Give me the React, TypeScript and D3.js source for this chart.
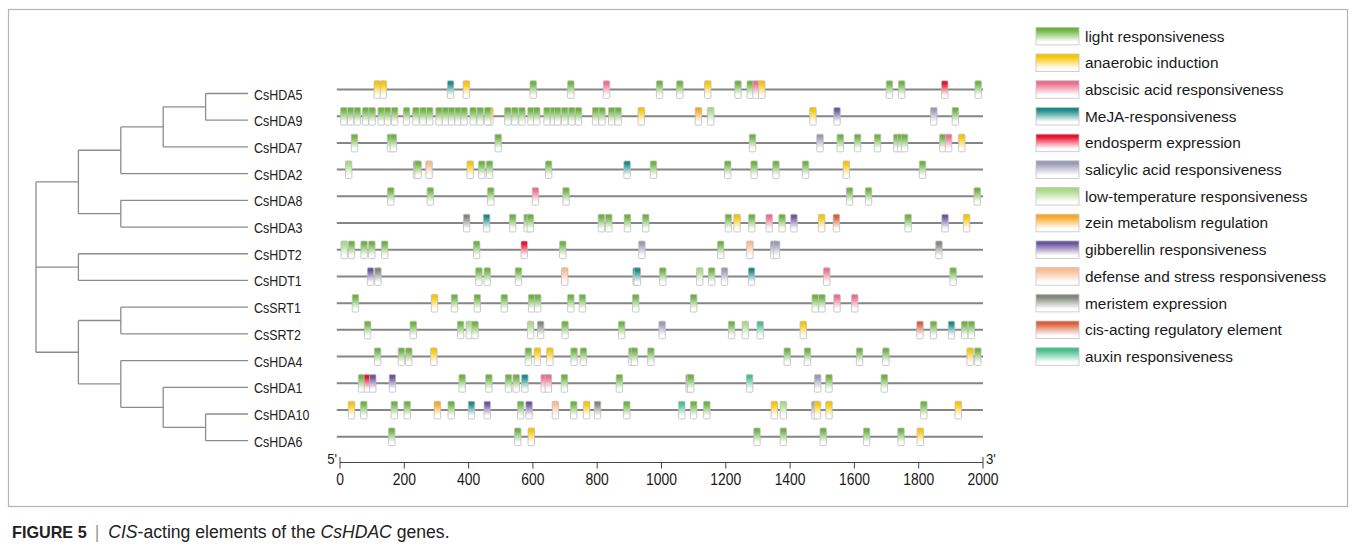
import React from 'react'
import * as d3 from 'd3'

// genes, top to bottom
const genes = [
  'CsHDA5', 'CsHDA9', 'CsHDA7', 'CsHDA2', 'CsHDA8', 'CsHDA3', 'CsHDT2',
  'CsHDT1', 'CsSRT1', 'CsSRT2', 'CsHDA4', 'CsHDA1', 'CsHDA10', 'CsHDA6',
]

const elementKeys = ['L', 'AN', 'ABA', 'MJ', 'EN', 'SA', 'LT', 'ZN', 'GA', 'DS', 'ME', 'CA', 'AX']
const elementNames = [
  'light responsiveness',
  'anaerobic induction',
  'abscisic acid responsiveness',
  'MeJA-responsiveness',
  'endosperm expression',
  'salicylic acid responsiveness',
  'low-temperature responsiveness',
  'zein metabolism regulation',
  'gibberellin responsiveness',
  'defense and stress responsiveness',
  'meristem expression',
  'cis-acting regulatory element',
  'auxin responsiveness',
]
const elementColors = [
  '#6cb33f', '#f7c600', '#ec6f8e', '#1a8a87', '#e8102d', '#9a9ab8', '#a9d987',
  '#f9a825', '#6a559e', '#f9bc92', '#80877a', '#d9603b', '#48bf8e',
]

// [position (bp, box centre), element key]
const sitesHDA5 = [[116, 'AN'], [135, 'AN'], [344, 'MJ'], [393, 'AN'], [601, 'L'], [718, 'L'], [829, 'ABA'], [994, 'L'], [1057, 'L'], [1144, 'AN'], [1238, 'L'], [1276, 'L'], [1294, 'ABA'], [1312, 'AN'], [1709, 'L'], [1747, 'L'], [1881, 'EN'], [1985, 'L']]
const sitesHDA9 = [[12, 'L'], [33, 'L'], [54, 'L'], [80, 'L'], [100, 'L'], [128, 'L'], [148, 'L'], [170, 'L'], [207, 'L'], [236, 'L'], [258, 'L'], [279, 'L'], [308, 'L'], [328, 'L'], [347, 'L'], [367, 'L'], [386, 'L'], [414, 'L'], [436, 'L'], [466, 'AN'], [459, 'L'], [522, 'L'], [544, 'L'], [566, 'L'], [594, 'L'], [612, 'L'], [644, 'L'], [664, 'L'], [677, 'L'], [699, 'L'], [721, 'L'], [742, 'L'], [795, 'L'], [815, 'L'], [845, 'L'], [865, 'L'], [937, 'AN'], [1115, 'ZN'], [1153, 'LT'], [1471, 'AN'], [1546, 'GA'], [1847, 'SA'], [1914, 'L']]
const sitesHDA7 = [[45, 'L'], [157, 'L'], [166, 'L'], [492, 'L'], [1283, 'L'], [1493, 'SA'], [1556, 'L'], [1610, 'L'], [1672, 'L'], [1732, 'L'], [1744, 'L'], [1756, 'L'], [1875, 'L'], [1893, 'ABA'], [1934, 'AN']]
const sitesHDA2 = [[27, 'LT'], [238, 'L'], [243, 'L'], [277, 'DS'], [405, 'AN'], [441, 'L'], [465, 'L'], [649, 'L'], [893, 'MJ'], [975, 'L'], [1206, 'L'], [1288, 'L'], [1356, 'L'], [1448, 'L'], [1575, 'AN'], [1812, 'L']]
const sitesHDA8 = [[158, 'L'], [281, 'L'], [469, 'L'], [608, 'ABA'], [703, 'L'], [1585, 'L'], [1644, 'L'], [1982, 'L']]
const sitesHDA3 = [[394, 'ME'], [456, 'MJ'], [537, 'L'], [582, 'L'], [592, 'L'], [813, 'L'], [836, 'L'], [894, 'L'], [951, 'L'], [1208, 'L'], [1235, 'AN'], [1281, 'L'], [1335, 'ABA'], [1375, 'L'], [1412, 'GA'], [1498, 'AN'], [1544, 'CA'], [1767, 'L'], [1882, 'GA'], [1949, 'AN']]
const sitesHDT2 = [[13, 'LT'], [36, 'L'], [75, 'L'], [99, 'L'], [139, 'L'], [425, 'L'], [573, 'EN'], [693, 'L'], [939, 'SA'], [1184, 'L'], [1275, 'DS'], [1349, 'SA'], [1358, 'SA'], [1863, 'ME']]
const sitesHDT1 = [[95, 'GA'], [118, 'ME'], [432, 'L'], [458, 'L'], [555, 'L'], [699, 'DS'], [921, 'MJ'], [925, 'MJ'], [1004, 'L'], [1119, 'LT'], [1156, 'L'], [1196, 'SA'], [1280, 'MJ'], [1514, 'ABA'], [1907, 'L']]
const sitesSRT1 = [[48, 'L'], [294, 'AN'], [356, 'L'], [427, 'L'], [511, 'L'], [596, 'L'], [615, 'L'], [718, 'L'], [754, 'L'], [920, 'L'], [1100, 'L'], [1478, 'L'], [1499, 'L'], [1546, 'ABA'], [1601, 'ABA']]
const sitesSRT2 = [[86, 'L'], [228, 'L'], [375, 'L'], [402, 'LT'], [420, 'L'], [593, 'LT'], [624, 'ME'], [700, 'L'], [876, 'L'], [1002, 'SA'], [1218, 'L'], [1261, 'LT'], [1307, 'AX'], [1441, 'AN'], [1804, 'CA'], [1846, 'L'], [1902, 'MJ'], [1943, 'L'], [1964, 'L']]
const sitesHDA4 = [[117, 'L'], [191, 'L'], [214, 'L'], [292, 'AN'], [586, 'L'], [614, 'AN'], [653, 'AN'], [728, 'L'], [757, 'L'], [908, 'L'], [916, 'L'], [967, 'L'], [1391, 'L'], [1454, 'L'], [1616, 'L'], [1698, 'L'], [1960, 'AN'], [1984, 'L']]
const sitesHDA1 = [[67, 'L'], [85, 'EN'], [102, 'GA'], [163, 'GA'], [380, 'L'], [463, 'L'], [524, 'L'], [548, 'L'], [575, 'MJ'], [635, 'ABA'], [648, 'ABA'], [698, 'L'], [869, 'L'], [1086, 'L'], [1091, 'L'], [1274, 'AX'], [1486, 'SA'], [1521, 'L'], [1693, 'L']]
const sitesHDA10 = [[36, 'AN'], [74, 'L'], [169, 'L'], [209, 'L'], [303, 'ZN'], [346, 'L'], [409, 'MJ'], [458, 'GA'], [562, 'L'], [588, 'GA'], [670, 'DS'], [727, 'L'], [767, 'AN'], [801, 'ME'], [892, 'L'], [1063, 'AX'], [1100, 'L'], [1141, 'L'], [1351, 'AN'], [1379, 'LT'], [1477, 'SA'], [1485, 'AN'], [1521, 'AN'], [1816, 'L'], [1923, 'AN']]
const sitesHDA6 = [[161, 'L'], [553, 'L'], [595, 'AN'], [1297, 'L'], [1379, 'L'], [1503, 'L'], [1638, 'L'], [1745, 'L'], [1805, 'AN']]

const geneSites = [
  sitesHDA5, sitesHDA9, sitesHDA7, sitesHDA2, sitesHDA8, sitesHDA3, sitesHDT2,
  sitesHDT1, sitesSRT1, sitesSRT2, sitesHDA4, sitesHDA1, sitesHDA10, sitesHDA6,
]

// phylogeny (cladogram, internal nodes placed by depth)
const treeData = [
  [[[['CsHDA5', 'CsHDA9'], 'CsHDA7'], 'CsHDA2'], ['CsHDA8', 'CsHDA3']],
  ['CsHDT2', 'CsHDT1'],
  [['CsSRT1', 'CsSRT2'], ['CsHDA4', ['CsHDA1', ['CsHDA10', 'CsHDA6']]]],
]

const axisTicks = [0, 200, 400, 600, 800, 1000, 1200, 1400, 1600, 1800, 2000]
const siteWidth = 20 // bp
const font = "'Liberation Sans', Arial, sans-serif"

export default function App() {
  const W = 1356
  const H = 551

  const x = d3.scaleLinear().domain([0, 2000]).range([340, 983])
  const y = d3.scalePoint().domain(genes).range([89.5, 436.7])
  const treeX = d3.scaleLinear().domain([0, 5]).range([36, 248])
  const treeDy = 4

  // tree layout
  const root = d3.hierarchy<any>(treeData, (d) => (Array.isArray(d) ? d : null))
  root.eachAfter((n: any) => {
    if (!n.children) {
      n.py = (y(n.data) as number) + treeDy
      n.px = treeX(5)
    } else {
      n.py = (n.children[0].py + n.children[n.children.length - 1].py) / 2
      n.px = treeX(n.depth)
    }
  })
  const treePaths: string[] = []
  root.each((n: any) => {
    if (n.children) {
      const first = n.children[0]
      const last = n.children[n.children.length - 1]
      treePaths.push(`M${n.px},${first.py}V${last.py}`)
      n.children.forEach((c: any) => treePaths.push(`M${n.px},${c.py}H${c.px}`))
    }
  })

  const colorOf = (k: string) => elementColors[elementKeys.indexOf(k)]
  const gradId = (k: string) => `grad-${k}`

  const legendY = d3.scaleLinear().domain([0, 1]).range([27.3, 54])
  const boxH = 17.6

  return (
    <svg
      width={W}
      height={H}
      style={{ position: 'absolute', left: 0, top: 0, background: '#fff' }}
    >
      <defs>
        {elementKeys.map((k) => (
          <linearGradient key={k} id={gradId(k)} x1="0" y1="0" x2="0" y2="1">
            <stop offset="0" stopColor={colorOf(k)} />
            <stop offset="0.15" stopColor={colorOf(k)} />
            <stop offset="0.82" stopColor="#ffffff" />
            <stop offset="1" stopColor="#ffffff" />
          </linearGradient>
        ))}
      </defs>

      {/* frame */}
      <rect x={8.5} y={9.5} width={1339} height={497} fill="none" stroke="#b4b4b4" strokeWidth={1.2} />

      {/* tree */}
      <g stroke="#8c8c8c" strokeWidth={1.3} fill="none">
        {treePaths.map((p, i) => (
          <path key={i} d={p} />
        ))}
      </g>
      {genes.map((g) => (
        <text
          key={g}
          transform={`translate(254,${(y(g) as number) + treeDy + 6}) scale(0.86,1)`}
          fontFamily={font}
          fontSize={14.5}
          fill="#222"
        >
          {g}
        </text>
      ))}

      {/* promoter lines and sites */}
      {genes.map((g, gi) => {
        const cy = y(g) as number
        return (
          <g key={g}>
            <line x1={x(-10)} x2={x(2000)} y1={cy} y2={cy} stroke="#858585" strokeWidth={2} />
            {geneSites[gi].map(([pos, k], i) => (
              <rect
                key={i}
                x={x((pos as number) - siteWidth / 2)}
                y={cy - 8.7}
                width={x(siteWidth) - x(0)}
                height={boxH}
                rx={1}
                fill={`url(#${gradId(k as string)})`}
                stroke="#bdbdbd"
                strokeWidth={0.8}
              />
            ))}
          </g>
        )
      })}

      {/* axis */}
      <g>
        <line x1={x(0)} x2={x(2000)} y1={462.5} y2={462.5} stroke="#444" strokeWidth={1} />
        {axisTicks.map((t) => (
          <g key={t}>
            <line
              x1={x(t)}
              x2={x(t)}
              y1={t === 0 || t === 2000 ? 457 : 462.5}
              y2={468.5}
              stroke="#444"
              strokeWidth={1}
            />
            <text
              transform={`translate(${x(t)},485) scale(0.88,1)`}
              textAnchor="middle"
              fontFamily={font}
              fontSize={15.8}
              fill="#1a1a1a"
            >
              {t}
            </text>
          </g>
        ))}
        <text
          transform={`translate(${x(0) - 3},464) scale(0.88,1)`}
          textAnchor="end"
          fontFamily={font}
          fontSize={15}
          fill="#1a1a1a"
        >
          5'
        </text>
        <text
          transform={`translate(${x(2000) + 3},464) scale(0.88,1)`}
          fontFamily={font}
          fontSize={15}
          fill="#1a1a1a"
        >
          3'
        </text>
      </g>

      {/* legend */}
      {elementKeys.map((k, i) => (
        <g key={k}>
          <rect
            x={1036}
            y={legendY(i)}
            width={43}
            height={boxH}
            fill={`url(#${gradId(k)})`}
            stroke="#c4c4c4"
            strokeWidth={0.8}
          />
          <text
            x={1085}
            y={legendY(i) + boxH / 2 + 5.4}
            fontFamily={font}
            fontSize={15.4}
            fill="#1a1a1a"
          >
            {elementNames[i]}
          </text>
        </g>
      ))}

      {/* caption */}
      <text x={12} y={538} fontFamily={font} fontSize={17.6} fill="#222">
        <tspan fontWeight="bold" fontSize={16.2}>FIGURE 5</tspan>
        <tspan fill="#999" dx={8}>|</tspan>
        <tspan dx={9} fontStyle="italic">CIS</tspan>
        <tspan>-acting elements of the </tspan>
        <tspan fontStyle="italic">CsHDAC</tspan>
        <tspan> genes.</tspan>
      </text>
    </svg>
  )
}
